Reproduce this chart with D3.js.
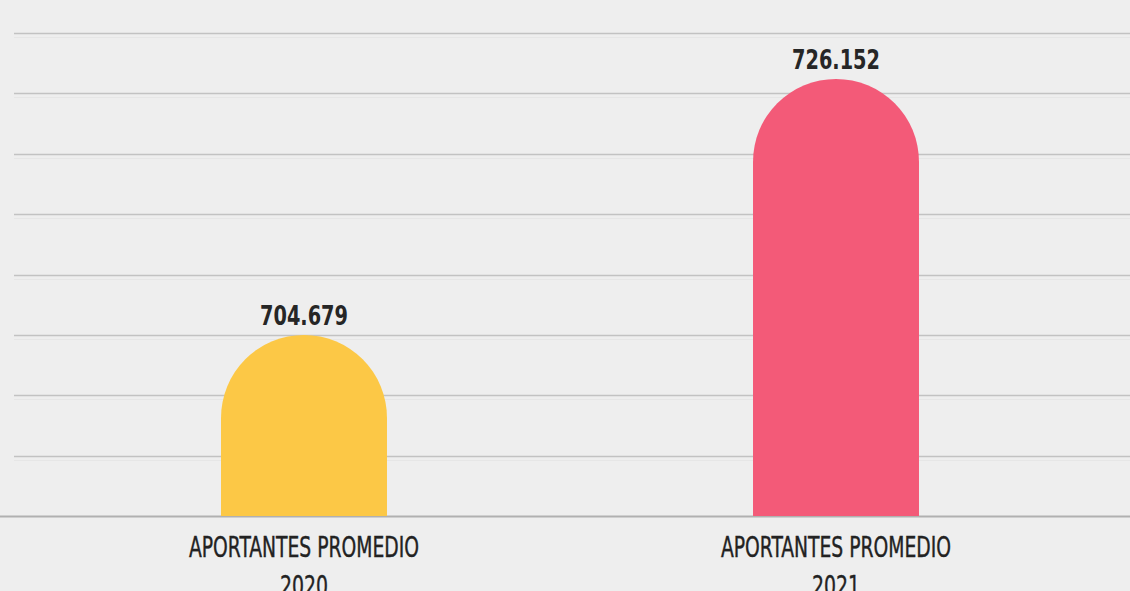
<!DOCTYPE html>
<html>
<head>
<meta charset="utf-8">
<script src="https://cdn.jsdelivr.net/npm/d3@7"></script>
<style>
  html, body { margin: 0; padding: 0; background: #eeeeee; }
  svg { display: block; }
</style>
</head>
<body>
<svg id="chart"></svg>
<script>
var categories = ["APORTANTES PROMEDIO 2020", "APORTANTES PROMEDIO 2021"];
var labelLine1 = ["APORTANTES PROMEDIO", "APORTANTES PROMEDIO"];
var labelLine2 = ["2020", "2021"];
var values = [704.679, 726.152];
var valueLabels = ["704.679", "726.152"];
var colors = ["#fcc846", "#f35a78"];
var gridCount = 8;

var width = 1130;
var height = 591;
var baseY = 516;
var topY = 33;

var svg = d3.select("#chart")
  .attr("width", width)
  .attr("height", height);

svg.append("rect")
  .attr("width", width)
  .attr("height", height)
  .attr("fill", "#eeeeee");

// bars don't start from zero in the original
var yScale = d3.scaleLinear()
  .domain([689.5, 730])
  .range([baseY, topY]);

var xScale = d3.scaleBand()
  .domain(categories)
  .range([38, 1102]);

// notebook-style lines
var gridScale = d3.scaleLinear()
  .domain([0, gridCount])
  .range([topY, baseY]);

var grid = svg.append("g");
d3.range(gridCount).forEach(function(i) {
  var y = Math.round(gridScale(i)) + 0.5;
  grid.append("line")
    .attr("x1", 14).attr("x2", width)
    .attr("y1", y).attr("y2", y)
    .attr("stroke", "#c2c2c2")
    .attr("stroke-width", 1.5);
  grid.append("line")
    .attr("x1", 14).attr("x2", width)
    .attr("y1", y + 4).attr("y2", y + 4)
    .attr("stroke", "#e6e6e6")
    .attr("stroke-width", 1);
});

svg.append("line")
  .attr("x1", 0).attr("x2", width)
  .attr("y1", baseY + 0.5).attr("y2", baseY + 0.5)
  .attr("stroke", "#b0b0b0")
  .attr("stroke-width", 2);

var barW = xScale.bandwidth() * 0.312;

function barPath(d, i) {
  var cx = xScale(categories[i]) + xScale.bandwidth() / 2;
  var x0 = cx - barW / 2;
  var r = barW / 2;
  var top = yScale(d);
  return "M" + x0 + "," + baseY +
    "V" + (top + r) +
    "A" + r + "," + r + " 0 0 1 " + (x0 + barW) + "," + (top + r) +
    "V" + baseY + "Z";
}

svg.selectAll(".bar")
  .data(values)
  .enter()
  .append("path")
  .attr("class", "bar")
  .attr("d", barPath)
  .attr("fill", function(d, i) { return colors[i]; });

svg.selectAll(".value")
  .data(values)
  .enter()
  .append("text")
  .attr("class", "value")
  .attr("x", function(d, i) { return xScale(categories[i]) + xScale.bandwidth() / 2 - 44; })
  .attr("y", function(d) { return yScale(d) - 10; })
  .attr("textLength", 88)
  .attr("lengthAdjust", "spacingAndGlyphs")
  .style("font-family", "'DejaVu Sans Condensed', 'Liberation Sans Narrow', sans-serif")
  .style("font-weight", "bold")
  .style("font-size", "27px")
  .attr("fill", "#262626")
  .text(function(d, i) { return valueLabels[i]; });

var cat = svg.selectAll(".cat")
  .data(categories)
  .enter()
  .append("g")
  .attr("class", "cat")
  .attr("transform", function(d) {
    return "translate(" + (xScale(d) + xScale.bandwidth() / 2) + ",0)";
  });

cat.append("text")
  .attr("x", -115)
  .attr("y", 557)
  .attr("textLength", 230)
  .attr("lengthAdjust", "spacingAndGlyphs")
  .style("font-family", "'DejaVu Sans Condensed', 'Liberation Sans Narrow', sans-serif")
  .style("font-size", "29px")
  .attr("fill", "#222222")
  .attr("stroke", "#222222")
  .attr("stroke-width", 0.4)
  .text(function(d, i) { return labelLine1[i]; });

cat.append("text")
  .attr("x", -24)
  .attr("y", 596)
  .attr("textLength", 48)
  .attr("lengthAdjust", "spacingAndGlyphs")
  .style("font-family", "'DejaVu Sans Condensed', 'Liberation Sans Narrow', sans-serif")
  .style("font-size", "29px")
  .attr("fill", "#222222")
  .attr("stroke", "#222222")
  .attr("stroke-width", 0.4)
  .text(function(d, i) { return labelLine2[i]; });
</script>
</body>
</html>
